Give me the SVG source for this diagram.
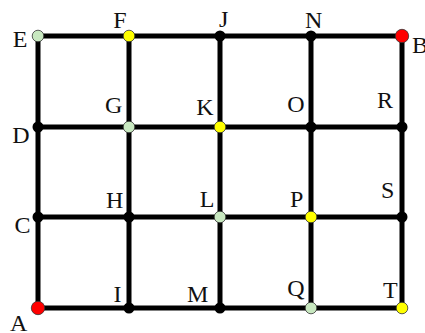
<svg xmlns="http://www.w3.org/2000/svg" width="425" height="333" viewBox="0 0 425 333">
<style>
.e{stroke:#000;stroke-width:5;stroke-linecap:butt;fill:none}
.k{fill:#000}
.g{fill:#c8e8c0;stroke:#333;stroke-width:0.8}
.y{fill:#ffff00;stroke:#333;stroke-width:0.8}
.r{fill:#ff0000;stroke:#333;stroke-width:0.8}
text{font-family:"Liberation Serif","DejaVu Serif",serif;font-size:24px;fill:#111}
</style>
<rect width="425" height="333" fill="#fff"/>
<g id="connectors">
<line class="e" x1="38" y1="36" x2="402" y2="36"/>
<line class="e" x1="38" y1="127" x2="402" y2="127"/>
<line class="e" x1="38" y1="217" x2="402" y2="217"/>
<line class="e" x1="38" y1="308" x2="402" y2="308"/>
<line class="e" x1="38" y1="36" x2="38" y2="308"/>
<line class="e" x1="129" y1="36" x2="129" y2="308"/>
<line class="e" x1="220" y1="36" x2="220" y2="308"/>
<line class="e" x1="311" y1="36" x2="311" y2="308"/>
<line class="e" x1="402" y1="36" x2="402" y2="308"/>
</g>
<g id="E"><circle class="g" cx="38" cy="36" r="5.8"/><text x="12.7" y="47">E</text></g>
<g id="F"><circle class="y" cx="129" cy="36" r="5.8"/><text x="113.3" y="28">F</text></g>
<g id="J"><circle class="k" cx="220" cy="36" r="5.5"/><text x="219" y="27">J</text></g>
<g id="N"><circle class="k" cx="311" cy="36" r="5.5"/><text x="305" y="28">N</text></g>
<g id="B"><circle class="r" cx="402" cy="36" r="6.7"/><text x="412" y="53">B</text></g>
<g id="D"><circle class="k" cx="38" cy="127" r="5.5"/><text x="12.3" y="143">D</text></g>
<g id="G"><circle class="g" cx="129" cy="127" r="5.8"/><text x="105" y="113">G</text></g>
<g id="K"><circle class="y" cx="220" cy="127" r="5.8"/><text x="196.3" y="115">K</text></g>
<g id="O"><circle class="k" cx="311" cy="127" r="5.5"/><text x="287.3" y="111.5">O</text></g>
<g id="R"><circle class="k" cx="402" cy="127" r="5.5"/><text x="377" y="108">R</text></g>
<g id="C"><circle class="k" cx="38" cy="217" r="5.5"/><text x="14.5" y="233">C</text></g>
<g id="H"><circle class="k" cx="129" cy="217" r="5.5"/><text x="106" y="208">H</text></g>
<g id="L"><circle class="g" cx="220" cy="217" r="5.8"/><text x="199.7" y="207">L</text></g>
<g id="P"><circle class="y" cx="311" cy="217" r="5.8"/><text x="290" y="207">P</text></g>
<g id="S"><circle class="k" cx="402" cy="217" r="5.5"/><text x="381" y="198">S</text></g>
<g id="A"><circle class="r" cx="38" cy="308" r="6.7"/><text x="10" y="331">A</text></g>
<g id="I"><circle class="k" cx="129" cy="308" r="5.5"/><text x="113.5" y="302">I</text></g>
<g id="M"><circle class="k" cx="220" cy="308" r="5.5"/><text x="187" y="302">M</text></g>
<g id="Q"><circle class="g" cx="311" cy="308" r="5.8"/><text x="287.3" y="296">Q</text></g>
<g id="T"><circle class="y" cx="402" cy="308" r="5.8"/><text x="383" y="298">T</text></g>
</svg>
